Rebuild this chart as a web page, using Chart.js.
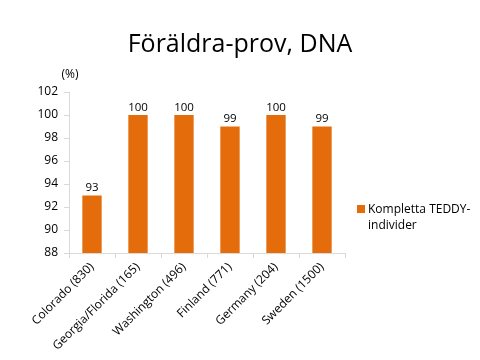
<!DOCTYPE html>
<html>
<head>
<meta charset="utf-8">
<script src="https://cdn.jsdelivr.net/npm/chart.js@4"></script>
<style>
  body { margin: 0; background: #fff; }
  #wrap { position: relative; width: 480px; height: 360px; }
</style>
</head>
<body>
<div id="wrap"><canvas id="c" width="480" height="360"></canvas></div>
<script>
const categories = ['Colorado (830)', 'Georgia/Florida (165)', 'Washington (496)', 'Finland (771)', 'Germany (204)', 'Sweden (1500)'];
const values = [93, 100, 100, 99, 100, 99];
const seriesName = ['Kompletta TEDDY-', 'individer'];
const titleText = 'Föräldra-prov, DNA';
const unitText = '(%)';

const orange = '#E46C0A';
const axisGrey = '#D9D9D9';
const font = 'Open Sans';

const extras = {
  id: 'extras',
  afterDraw(chart) {
    const ctx = chart.ctx;
    const x = chart.scales.x, y = chart.scales.y;
    ctx.save();
    // title
    ctx.fillStyle = '#000';
    ctx.font = '25px "' + font + '"';
    ctx.textAlign = 'center';
    ctx.textBaseline = 'middle';
    ctx.fillText(titleText, 240, 45);
    // unit
    ctx.font = '12px "' + font + '"';
    ctx.fillText(unitText, 70, 75);
    // value labels
    ctx.textBaseline = 'bottom';
    ctx.font = '11.5px "' + font + '"';
    values.forEach((v, i) => {
      ctx.fillText(String(v), x.getPixelForValue(i), y.getPixelForValue(v) - 2);
    });
    // legend
    ctx.fillStyle = orange;
    ctx.fillRect(357, 205, 8, 8);
    ctx.fillStyle = '#000';
    ctx.textAlign = 'left';
    ctx.textBaseline = 'middle';
    ctx.font = '12px "' + font + '"';
    seriesName.forEach((t, i) => ctx.fillText(t, 368, 210 + i * 16));
    ctx.restore();
  }
};

new Chart(document.getElementById('c'), {
  type: 'bar',
  data: {
    labels: categories,
    datasets: [{
      label: seriesName.join(''),
      data: values,
      backgroundColor: orange,
      barPercentage: 0.42,
      categoryPercentage: 1,
    }],
  },
  options: {
    responsive: false,
    animation: false,
    layout: { padding: { top: 92, right: 135, left: 0, bottom: 0 } },
    plugins: { legend: { display: false }, tooltip: { enabled: false } },
    scales: {
      x: {
        afterFit(s) { s.height = 107; },
        grid: { drawOnChartArea: false, color: axisGrey, tickLength: 5, offset: true },
        border: { color: axisGrey },
        ticks: { minRotation: 45, maxRotation: 45, color: '#000', font: { family: font, size: 12 }, padding: 2 },
      },
      y: {
        min: 88,
        max: 102,
        afterFit(s) { s.width = 69; },
        grid: { drawOnChartArea: false, color: axisGrey, tickLength: 5 },
        border: { color: axisGrey },
        ticks: { stepSize: 2, color: '#000', font: { family: font, size: 12 }, padding: 6 },
      },
    },
  },
  plugins: [extras],
});
</script>
</body>
</html>
